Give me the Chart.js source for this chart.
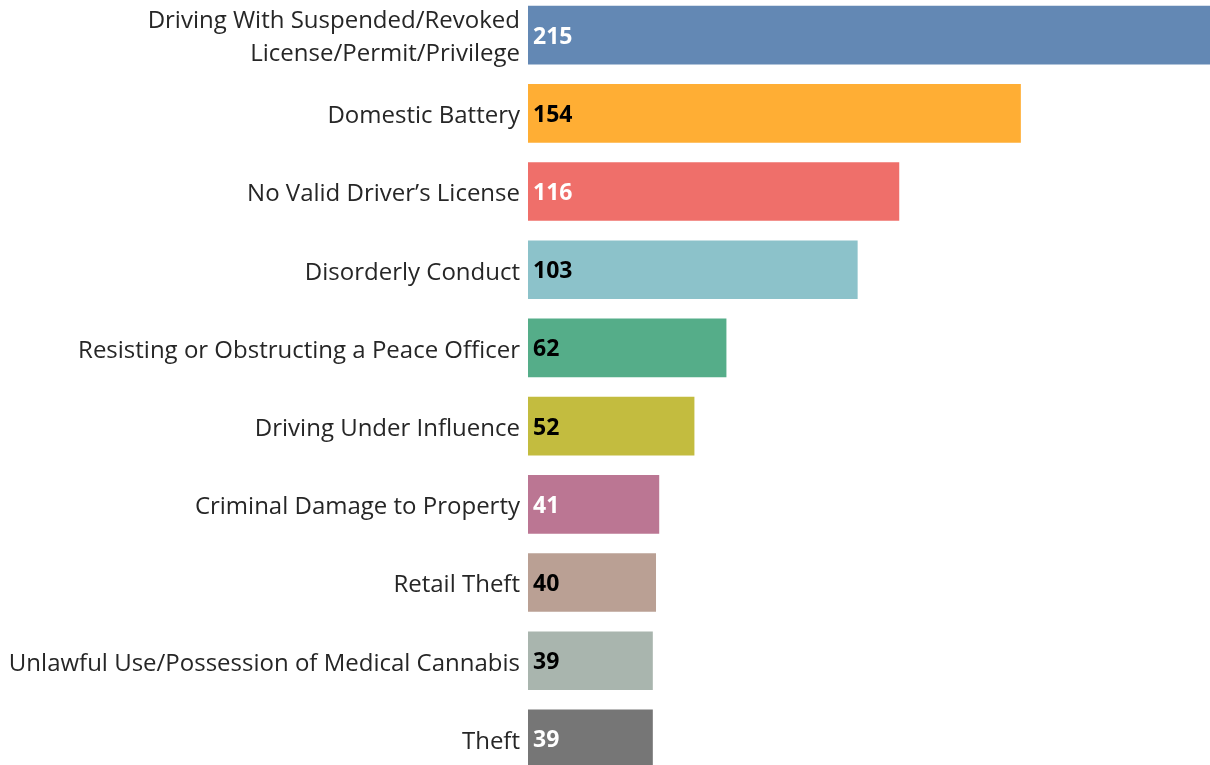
<!DOCTYPE html>
<html>
<head>
<meta charset="utf-8">
<script src="https://cdn.jsdelivr.net/npm/chart.js@4/dist/chart.umd.min.js"></script>
<style>
  html, body { margin: 0; padding: 0; background: #ffffff; overflow: hidden; width: 1210px; height: 765px; }
  #c { position: absolute; left: 0; top: -4px; }
</style>
</head>
<body>
<canvas id="c" width="1210" height="782"></canvas>
<script>
const categories = [
  ["Driving With Suspended/Revoked", "License/Permit/Privilege"],
  "Domestic Battery",
  "No Valid Driver\u2019s License",
  "Disorderly Conduct",
  "Resisting or Obstructing a Peace Officer",
  "Driving Under Influence",
  "Criminal Damage to Property",
  "Retail Theft",
  "Unlawful Use/Possession of Medical Cannabis",
  "Theft"
];
const counts = [215, 154, 116, 103, 62, 52, 41, 40, 39, 39];
const barColors = ["#6388b4", "#ffae34", "#ef6f6a", "#8cc2ca", "#55ad89", "#c3bc3f", "#bb7693", "#baa094", "#a9b5ae", "#767676"];
const valueLabelColors = ["#ffffff", "#000000", "#ffffff", "#000000", "#000000", "#000000", "#ffffff", "#000000", "#000000", "#ffffff"];

const FONT = "'Open Sans', 'Noto Sans', sans-serif";

// shift axis tick labels slightly down to match the reference baseline
const tickShift = {
  id: 'tickShift',
  beforeDraw(chart) { chart.ctx.save(); chart.ctx.translate(0, 3); },
  beforeDatasetsDraw(chart) { chart.ctx.restore(); }
};

const valueLabels = {
  id: 'valueLabels',
  afterDatasetsDraw(chart) {
    const ctx = chart.ctx;
    const meta = chart.getDatasetMeta(0);
    ctx.save();
    ctx.font = "bold 23px " + FONT;
    ctx.textAlign = 'left';
    ctx.textBaseline = 'middle';
    meta.data.forEach((el, i) => {
      ctx.fillStyle = valueLabelColors[i];
      ctx.fillText(String(counts[i]), el.base + 5, el.y + 2);
    });
    ctx.restore();
  }
};

new Chart(document.getElementById('c'), {
  type: 'bar',
  data: {
    labels: categories,
    datasets: [{
      data: counts,
      backgroundColor: barColors,
      borderWidth: 0,
      barPercentage: 0.75,
      categoryPercentage: 1.0
    }]
  },
  options: {
    indexAxis: 'y',
    responsive: false,
    animation: false,
    devicePixelRatio: 1,
    layout: { padding: 0 },
    plugins: { legend: { display: false }, tooltip: { enabled: false } },
    scales: {
      x: {
        display: false,
        min: 0,
        max: 213.1
      },
      y: {
        grid: { display: false, drawTicks: false },
        border: { display: false },
        ticks: {
          color: '#262626',
          padding: 8,
          font: { family: FONT, size: 24, lineHeight: 1.375 }
        },
        afterFit(scale) {
          scale.width = 528;
          scale.paddingTop = 0;
          scale.paddingBottom = 0;
        }
      }
    }
  },
  plugins: [tickShift, valueLabels]
});
</script>
</body>
</html>
